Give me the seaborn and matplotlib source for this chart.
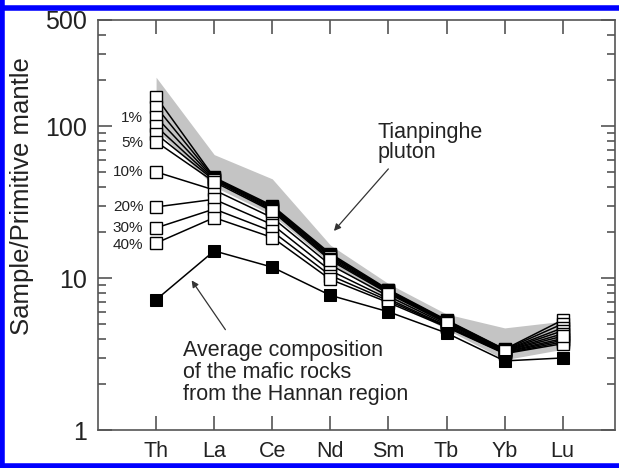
import numpy as np
import pandas as pd
import matplotlib
matplotlib.use("Agg")
import matplotlib.pyplot as plt
import seaborn as sns
from matplotlib.lines import Line2D

sns.set_theme(style="white")
plt.rcParams['font.family'] = ['Liberation Sans', 'DejaVu Sans']

elements = ["Th", "La", "Ce", "Nd", "Sm", "Tb", "Yb", "Lu"]

m_a = [156, 46.0, 30.0, 14.5, 8.4, 5.30, 3.40, 5.3]
m_b = [134, 45.5, 29.5, 14.2, 8.3, 5.25, 3.38, 5.0]
m_c = [115, 45.0, 29.0, 14.0, 8.2, 5.20, 3.36, 4.7]
m_d = [100, 44.5, 28.5, 13.7, 8.1, 5.15, 3.34, 4.5]
m_e = [89, 44.0, 28.0, 13.4, 8.0, 5.10, 3.32, 4.3]
m_f = [79, 43.0, 27.5, 13.1, 7.9, 5.05, 3.30, 4.15]
m_10 = [50, 38.0, 25.0, 12.2, 7.6, 4.95, 3.27, 4.0]
m_20 = [29.4, 33.0, 22.5, 11.2, 7.3, 4.85, 3.24, 3.9]
m_30 = [21.4, 28.5, 20.3, 10.4, 7.1, 4.80, 3.20, 3.8]
m_40 = [17.0, 25.0, 18.5, 9.8, 6.9, 4.75, 3.18, 3.7]
model_series = [m_a, m_b, m_c, m_d, m_e, m_f, m_10, m_20, m_30, m_40]
model_names = ["a", "b", "c", "d", "e", "f", "10", "20", "30", "40"]

mafic = [7.2, 15.1, 11.8, 7.7, 6.0, 4.35, 2.85, 2.98]

band_top = [210, 65, 45, 16.5, 9.2, 5.8, 4.7, 5.2]
band_bot = [95, 40, 26, 12.5, 7.3, 4.6, 2.9, 3.4]

pct_labels = ["1%", "5%", "10%", "20%", "30%", "40%"]
pct_values = [113, 78, 50, 29.4, 21.4, 16.5]

y_ticks = [1, 10, 100, 500]
y_ticklabels = ["1", "10", "100", "500"]

rows = []
for name, vals in zip(model_names, model_series):
    for i, (el, v) in enumerate(zip(elements, vals)):
        rows.append({"series": name, "pos": i, "element": el, "value": v})
df_model = pd.DataFrame(rows)
df_mafic = pd.DataFrame({"pos": range(len(elements)), "element": elements, "value": mafic})

W, H = 619, 468
fig = plt.figure(figsize=(W / 100, H / 100), dpi=100)
fig.patch.set_facecolor("white")
ax = fig.add_axes([98 / W, 38 / H, (615 - 98) / W, (430 - 20) / H])

x = np.arange(len(elements))
ax.fill_between(x, band_bot, band_top, color="#c4c4c4", lw=0, zorder=1)

sns.lineplot(data=df_model, x="pos", y="value", units="series", estimator=None,
             color="black", lw=1.1, marker="s", markersize=8.5,
             markerfacecolor="white", markeredgecolor="black", markeredgewidth=1.0,
             ax=ax, zorder=3, legend=False)
sns.lineplot(data=df_mafic, x="pos", y="value", color="black", lw=1.1,
             marker="s", markersize=8.5, markerfacecolor="black",
             markeredgecolor="black", ax=ax, zorder=4, legend=False)

ax.set_yscale("log")
ax.set_ylim(1, 500)
ax.set_xlim(-1, 7.9)
ax.set_xticks(x)
ax.set_xticklabels(elements, fontsize=15.5, color="#222222")
ax.set_yticks(y_ticks)
ax.set_yticklabels(y_ticklabels, fontsize=18, color="#222222")
ax.yaxis.set_minor_locator(matplotlib.ticker.LogLocator(base=10, subs=np.arange(2, 10)))
ax.yaxis.set_minor_formatter(matplotlib.ticker.NullFormatter())
ax.set_xlabel("")
ax.set_ylabel("Sample/Primitive mantle", fontsize=18.5, color="#222222")
ax.yaxis.set_label_coords(-0.124, 0.571)

ax.tick_params(axis="both", which="major", direction="in", length=10, width=1.2,
               color="#555555", top=True, right=True, left=True, bottom=True, pad=8)
ax.tick_params(axis="y", which="major", pad=8)
ax.tick_params(axis="y", which="minor", direction="in", length=6, width=1.2,
               color="#555555", left=True, right=True)
for s in ax.spines.values():
    s.set_color("#555555")
    s.set_linewidth(1.2)

for lab, v in zip(pct_labels, pct_values):
    ax.text(-0.22, v, lab, ha="right", va="center", fontsize=11, color="#222222")

ax.text(3.82, 78, "Tianpinghe\npluton", ha="left", va="center", fontsize=15.5,
        color="#222222", linespacing=0.95)
ax.annotate("", xy=(3.03, 19.8), xytext=(4.03, 54),
            arrowprops=dict(arrowstyle="-|>", color="#333333", lw=0.9,
                            mutation_scale=10))
ax.text(0.46, 2.4, "Average composition\nof the mafic rocks\nfrom the Hannan region",
        ha="left", va="center", fontsize=15.5, color="#222222", linespacing=1.05)
ax.annotate("", xy=(0.585, 10.0), xytext=(1.22, 4.42),
            arrowprops=dict(arrowstyle="-|>", color="#333333", lw=0.9,
                            mutation_scale=10))

# blue frame
for (x0, y0, x1, y1) in [(2 / W, 0, 2 / W, 1), (0, 1 - 8 / H, 1, 1 - 8 / H), (0, 2 / H, 1, 2 / H)]:
    fig.add_artist(Line2D([x0, x1], [y0, y1], transform=fig.transFigure,
                          color="#0000ff", lw=4))

fig.savefig("out.png", dpi=100, facecolor="white")
